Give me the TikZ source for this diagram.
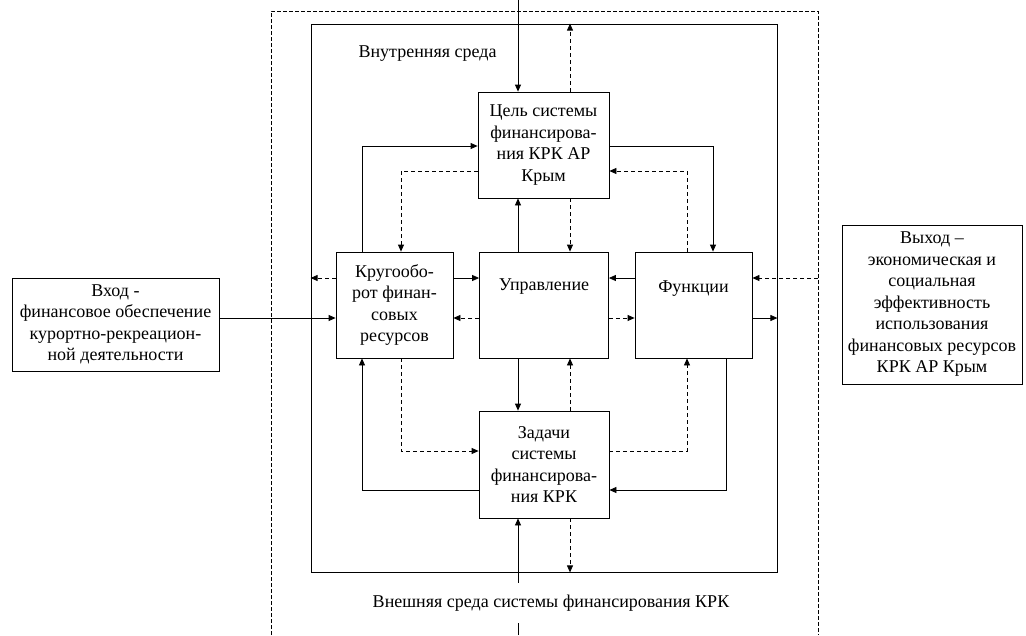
\documentclass[tikz,border=0pt]{standalone}
\usepackage{fontspec}
\setmainfont{Liberation Serif}
\usetikzlibrary{arrows.meta}
\begin{document}
\begin{tikzpicture}[x=1pt,y=-1pt,
  every node/.style={font=\fontsize{18}{21.5}\selectfont},
  box/.style={draw, line width=0.8pt, rectangle, inner sep=0pt, align=center},
  sarr/.style={line width=0.8pt, -{Triangle[length=7pt,width=6pt]}},
  sline/.style={line width=0.8pt},
  darr/.style={sarr, dash pattern=on 4pt off 3pt},
  envline/.style={line width=0.8pt, dash pattern=on 4pt off 2pt},
  lbl/.style={inner sep=2pt}]
\useasboundingbox (0,0) rectangle (1026,635);

% columns and rows of the connectors
\coordinate (A)  at (518,0);
\coordinate (B)  at (570,0);
\coordinate (L1) at (362,0);
\coordinate (L2) at (401,0);
\coordinate (R1) at (687,0);
\coordinate (R2) at (713,0);
\coordinate (R3) at (726,0);
\coordinate (T1) at (0,146);
\coordinate (T2) at (0,171);
\coordinate (M1) at (0,278);
\coordinate (M2) at (0,318);
\coordinate (B1) at (0,451);
\coordinate (B2) at (0,490);
\coordinate (topin) at (518,0);
\coordinate (botin) at (518,635);
\coordinate (outR) at (818,278);

% outer environment (dashed)
\draw[envline] (271,635) -- (271,11) -- (818,11) -- (818,635);
% inner environment
\node[box, minimum width=466pt, minimum height=548pt] (inner) at (544,298) {};
\node[lbl] (intext) at (427.5,54) {Внутренняя среда};

% blocks
\node[box, minimum width=131pt, minimum height=106pt] (tsel) at (543.5,145)
  {Цель системы\\финансирова-\\ния КРК АР\\Крым};
\node[box, minimum width=117pt, minimum height=106pt] (krug) at (394.5,305)
  {Кругообо-\\рот финан-\\совых\\ресурсов};
\node[box, minimum width=129pt, minimum height=106pt] (upr) at (544,305) {};
\node[lbl] (uprtext) at (544,287) {Управление};
\node[box, minimum width=117pt, minimum height=106pt] (funk) at (693.5,305) {};
\node[lbl] (funktext) at (693.5,289) {Функции};
\node[box, minimum width=130pt, minimum height=107pt] (zad) at (544,464.5)
  {Задачи\\системы\\финансирова-\\ния КРК};
\node[box, minimum width=207pt, minimum height=93pt] (vhod) at (115.5,324.5)
  {Вход -\\финансовое обеспечение\\курортно-рекреацион-\\ной деятельности};
\node[box, minimum width=180pt, minimum height=159pt] (vyhod) at (932,304.5)
  {Выход –\\экономическая и\\социальная\\эффективность\\использования\\финансовых ресурсов\\КРК АР Крым};

% vertical centre column
\draw[sarr] (topin) -- (tsel.north -| A);
\draw[darr] (tsel.north -| B) -- (inner.north -| B);
\draw[sarr] (upr.north -| A) -- (tsel.south -| A);
\draw[darr] (tsel.south -| B) -- (upr.north -| B);
\draw[sarr] (upr.south -| A) -- (zad.north -| A);
\draw[darr] (zad.north -| B) -- (upr.south -| B);
\draw[darr] (zad.south -| B) -- (inner.south -| B);
\draw[sarr] (botin) -- (zad.south -| A);

% loops round the goal
\draw[sarr] (krug.north -| L1) |- (tsel.west |- T1);
\draw[darr] (tsel.west |- T2) -| (krug.north -| L2);
\draw[sarr] (tsel.east |- T1) -| (funk.north -| R2);
\draw[darr] (funk.north -| R1) |- (tsel.east |- T2);

% middle row
\draw[sarr] (krug.east |- M1) -- (upr.west |- M1);
\draw[darr] (upr.west |- M2) -- (krug.east |- M2);
\draw[sarr] (funk.west |- M1) -- (upr.east |- M1);
\draw[darr] (upr.east |- M2) -- (funk.west |- M2);
\draw[darr] (krug.west |- M1) -- (inner.west |- M1);
\draw[sarr] (vhod.east |- M2) -- (krug.west |- M2);
\draw[darr] (outR) -- (funk.east |- M1);
\draw[sarr] (funk.east |- M2) -- (inner.east |- M2);

% loops round the tasks
\draw[sarr] (zad.west |- B2) -| (krug.south -| L1);
\draw[darr] (krug.south -| L2) |- (zad.west |- B1);
\draw[sarr] (funk.south -| R3) |- (zad.east |- B2);
\draw[darr] (zad.east |- B1) -| (funk.south -| R1);

% external environment label
\node[lbl, fill=white, minimum height=40pt] (extext) at (551,603)
  {Внешняя среда системы финансирования КРК};
\end{tikzpicture}
\end{document}
